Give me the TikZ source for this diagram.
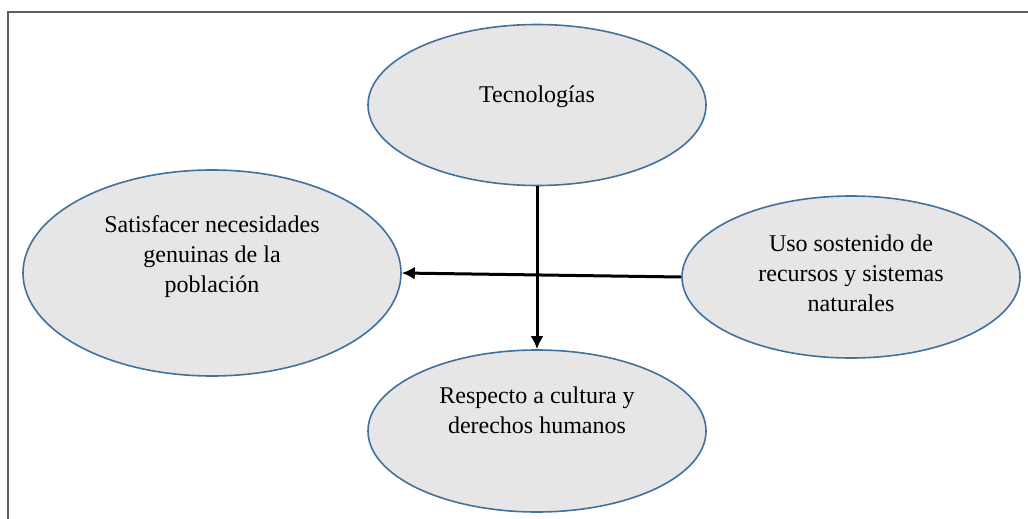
\documentclass[tikz,border=0pt]{standalone}
\usepackage{fontspec}
\setmainfont{Liberation Serif}
\usetikzlibrary{arrows.meta,positioning,shapes.geometric}

\definecolor{bubblefill}{HTML}{E6E6E6}
\definecolor{bubbleline}{HTML}{41719C}
\definecolor{framegray}{HTML}{5F5F5F}

\begin{document}
\begin{tikzpicture}[x=1pt, y=-1pt,
	bubble/.style={shape=ellipse, draw=bubbleline, fill=bubblefill, line width=1.6pt, inner sep=0},
	txt/.style={align=center, font=\fontsize{24}{30}\selectfont, inner sep=0},
	>={Latex[length=13pt,width=13pt]}, line width=3pt]
				\useasboundingbox (0,0) rectangle (1028,519);
				\draw[framegray, line width=2pt] (1028,12) -- (8,12) -- (8,519);
				\node[bubble, minimum width=338pt, minimum height=161pt] (tec) at (537,105) {};
				\node[txt] (tec-t) at ([yshift=8pt]tec.center) {Tecnologías};
				\node[bubble, minimum width=378pt, minimum height=206pt] (sat) at (212,273) {};
				\node[txt] (sat-t) at ([yshift=16pt]sat.center) {Satisfacer necesidades\\genuinas de la\\población};
				\node[bubble, minimum width=338pt, minimum height=162pt] (uso) at (851,277) {};
				\node[txt] (uso-t) at ([yshift=4pt]uso.center) {Uso sostenido de\\recursos y sistemas\\naturales};
				\node[bubble, minimum width=338pt, minimum height=162pt] (res) at (537,431) {};
				\node[txt] (res-t) at ([yshift=21pt]res.center) {Respecto a cultura y\\derechos humanos};
				\draw[->] (tec.south) to (res.north);
				\draw[->] (uso.west) to (sat.east);
			\end{tikzpicture}
\end{document}
